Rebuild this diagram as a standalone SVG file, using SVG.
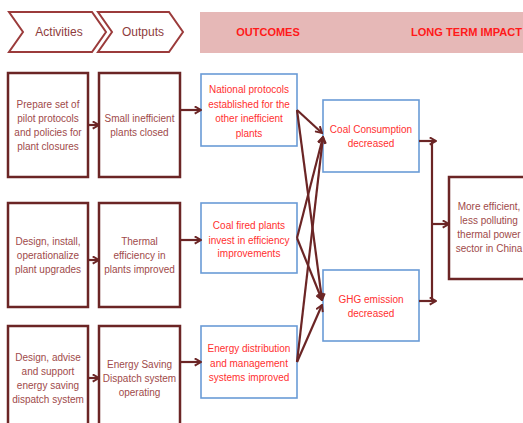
<svg xmlns="http://www.w3.org/2000/svg" width="523" height="423" viewBox="0 0 523 423">
  <style>
    .chev { fill: #ffffff; stroke: #9b3b3b; stroke-width: 2; stroke-linejoin: miter; }
    .chev-t { font-family: "Liberation Sans", Arial, sans-serif; font-size: 12px; fill: #8e3c3c; text-anchor: middle; }
    .band { fill: #e6b8b7; }
    .head { font-family: "Liberation Sans", Arial, sans-serif; font-size: 11px; font-weight: bold; fill: #ff1a1a; }
    .act { fill: #ffffff; stroke: #6b2525; stroke-width: 2.5; }
    .act-t { font-family: "Liberation Sans", Arial, sans-serif; font-size: 10px; fill: #a04a4a; text-anchor: middle; }
    .out { fill: #ffffff; stroke: #6a9bd6; stroke-width: 1.6; }
    .out-t { font-family: "Liberation Sans", Arial, sans-serif; font-size: 10px; fill: #ff3030; text-anchor: middle; }
    .link { fill: none; stroke: #6b2525; stroke-width: 2.2; }
  </style>
  <defs>
    <marker id="arrow" viewBox="0 0 10 10" refX="8.5" refY="5" markerWidth="9" markerHeight="9" markerUnits="userSpaceOnUse" orient="auto">
      <path d="M1.5,1 L8.5,5 L1.5,9" fill="none" stroke="#6b2525" stroke-width="2.2"/>
    </marker>
  </defs>

  <!-- column headers -->
  <g id="hdr-activities">
    <polygon class="chev" points="9,12 92,12 106,32 92,52 9,52 23,32"/>
    <text class="chev-t" x="59" y="36">Activities</text>
  </g>
  <g id="hdr-outputs">
    <polygon class="chev" points="98,12 169,12 183,32 169,52 98,52 112,32"/>
    <text class="chev-t" x="143" y="36">Outputs</text>
  </g>
  <g id="hdr-band">
    <rect class="band" x="200" y="12" width="330" height="41"/>
    <text class="head" x="268" y="36" text-anchor="middle">OUTCOMES</text>
    <text class="head" x="411" y="36" textLength="111" lengthAdjust="spacingAndGlyphs">LONG TERM IMPACT</text>
  </g>

  <!-- activities -->
  <g id="act-1">
    <rect class="act" x="8" y="73" width="80" height="104"/>
    <text class="act-t" x="48" y="108">Prepare set of</text>
    <text class="act-t" x="48" y="122">pilot protocols</text>
    <text class="act-t" x="48" y="136">and policies for</text>
    <text class="act-t" x="48" y="150">plant closures</text>
  </g>
  <g id="act-2">
    <rect class="act" x="8" y="203" width="80" height="104"/>
    <text class="act-t" x="48" y="245">Design, install,</text>
    <text class="act-t" x="48" y="259">operationalize</text>
    <text class="act-t" x="48" y="273">plant upgrades</text>
  </g>
  <g id="act-3">
    <rect class="act" x="8" y="326" width="80" height="110"/>
    <text class="act-t" x="48" y="361">Design, advise</text>
    <text class="act-t" x="48" y="375">and support</text>
    <text class="act-t" x="48" y="389">energy saving</text>
    <text class="act-t" x="48" y="403">dispatch system</text>
  </g>

  <!-- outputs -->
  <g id="output-1">
    <rect class="act" x="99" y="73" width="81" height="104"/>
    <text class="act-t" x="139.5" y="122">Small inefficient</text>
    <text class="act-t" x="139.5" y="136">plants closed</text>
  </g>
  <g id="output-2">
    <rect class="act" x="99" y="203" width="81" height="104"/>
    <text class="act-t" x="139.5" y="245">Thermal</text>
    <text class="act-t" x="139.5" y="259">efficiency in</text>
    <text class="act-t" x="139.5" y="273">plants improved</text>
  </g>
  <g id="output-3">
    <rect class="act" x="99" y="326" width="81" height="110"/>
    <text class="act-t" x="139.5" y="368">Energy Saving</text>
    <text class="act-t" x="139.5" y="382">Dispatch system</text>
    <text class="act-t" x="139.5" y="396">operating</text>
  </g>

  <!-- outcomes -->
  <g id="outcome-1">
    <rect class="out" x="201" y="74" width="96" height="72"/>
    <text class="out-t" x="249" y="93">National protocols</text>
    <text class="out-t" x="249" y="107.5">established for the</text>
    <text class="out-t" x="249" y="122">other inefficient</text>
    <text class="out-t" x="249" y="136.5">plants</text>
  </g>
  <g id="outcome-2">
    <rect class="out" x="201" y="203" width="96" height="70"/>
    <text class="out-t" x="249" y="229">Coal fired plants</text>
    <text class="out-t" x="249" y="243.5">invest in efficiency</text>
    <text class="out-t" x="249" y="257">improvements</text>
  </g>
  <g id="outcome-3">
    <rect class="out" x="201" y="326" width="96" height="72"/>
    <text class="out-t" x="249" y="352">Energy distribution</text>
    <text class="out-t" x="249" y="366.5">and management</text>
    <text class="out-t" x="249" y="381">systems improved</text>
  </g>
  <g id="outcome-coal">
    <rect class="out" x="323" y="100" width="96" height="72"/>
    <text class="out-t" x="371" y="133">Coal Consumption</text>
    <text class="out-t" x="371" y="147">decreased</text>
  </g>
  <g id="outcome-ghg">
    <rect class="out" x="323" y="270" width="96" height="71"/>
    <text class="out-t" x="371" y="303">GHG emission</text>
    <text class="out-t" x="371" y="317">decreased</text>
  </g>

  <!-- long term impact -->
  <g id="impact">
    <rect class="act" x="449" y="177" width="85" height="102"/>
    <text class="act-t" x="489" y="210">More efficient,</text>
    <text class="act-t" x="489" y="224">less polluting</text>
    <text class="act-t" x="489" y="238">thermal power</text>
    <text class="act-t" x="489" y="252">sector in China</text>
  </g>

  <!-- connectors -->
  <g id="connectors">
    <line class="link" x1="88" y1="125" x2="99" y2="125" marker-end="url(#arrow)"/>
    <line class="link" x1="88" y1="260" x2="99" y2="260" marker-end="url(#arrow)"/>
    <line class="link" x1="88" y1="378" x2="99" y2="378" marker-end="url(#arrow)"/>
    <line class="link" x1="180" y1="110" x2="201" y2="110" marker-end="url(#arrow)"/>
    <line class="link" x1="180" y1="240" x2="201" y2="240" marker-end="url(#arrow)"/>
    <line class="link" x1="180" y1="362" x2="201" y2="362" marker-end="url(#arrow)"/>

    <line class="link" x1="297" y1="110" x2="322" y2="133" marker-end="url(#arrow)"/>
    <line class="link" x1="297" y1="110" x2="322" y2="300" marker-end="url(#arrow)"/>
    <line class="link" x1="297" y1="238" x2="323" y2="137" marker-end="url(#arrow)"/>
    <line class="link" x1="297" y1="238" x2="322" y2="300" marker-end="url(#arrow)"/>
    <line class="link" x1="297" y1="362" x2="323" y2="137" marker-end="url(#arrow)"/>
    <line class="link" x1="297" y1="362" x2="322" y2="305" marker-end="url(#arrow)"/>

    <line class="link" x1="419" y1="141" x2="436" y2="141" marker-end="url(#arrow)"/>
    <line class="link" x1="419" y1="301" x2="436" y2="301" marker-end="url(#arrow)"/>
    <line class="link" x1="432" y1="141" x2="432" y2="301"/>
    <line class="link" x1="432" y1="224" x2="449" y2="224" marker-end="url(#arrow)"/>
  </g>
</svg>
